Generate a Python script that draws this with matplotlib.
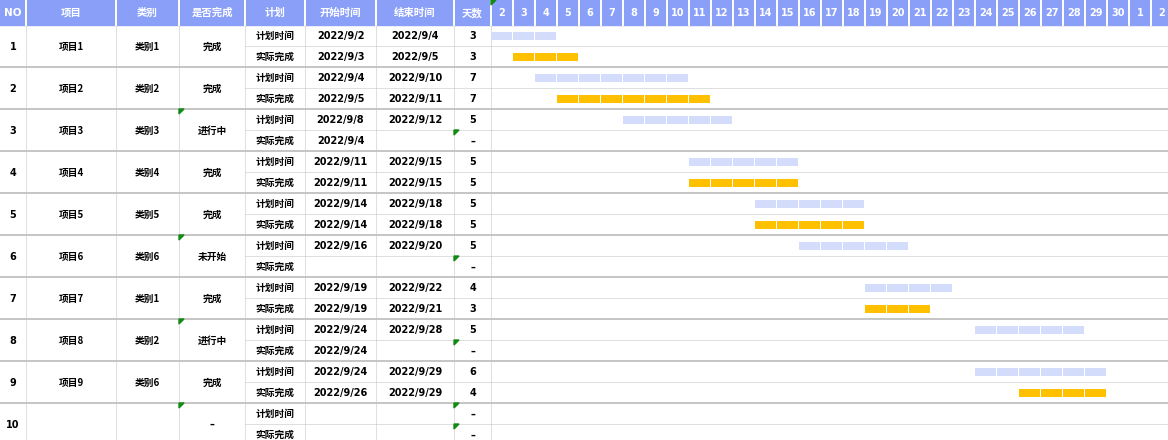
import matplotlib.pyplot as plt
from matplotlib.patches import Rectangle, Polygon
import pandas as pd

plt.rcParams['font.family'] = ['DejaVu Sans', 'Noto Sans CJK SC']
CJK = ['Noto Sans CJK SC', 'DejaVu Sans']
LAT = ['DejaVu Sans', 'Noto Sans CJK SC']

# ---- data read from the sheet ----
nos = [1, 2, 3, 4, 5, 6, 7, 8, 9, 10]
projects = ['项目1', '项目2', '项目3', '项目4', '项目5', '项目6', '项目7', '项目8', '项目9', '']
cats = ['类别1', '类别2', '类别3', '类别4', '类别5', '类别6', '类别1', '类别2', '类别6', '']
status = ['完成', '完成', '进行中', '完成', '完成', '未开始', '完成', '进行中', '完成', '–']
plan_start = ['2022/9/2', '2022/9/4', '2022/9/8', '2022/9/11', '2022/9/14', '2022/9/16',
              '2022/9/19', '2022/9/24', '2022/9/24', '']
plan_end = ['2022/9/4', '2022/9/10', '2022/9/12', '2022/9/15', '2022/9/18', '2022/9/20',
            '2022/9/22', '2022/9/28', '2022/9/29', '']
act_start = ['2022/9/3', '2022/9/5', '2022/9/4', '2022/9/11', '2022/9/14', '',
             '2022/9/19', '2022/9/24', '2022/9/26', '']
act_end = ['2022/9/5', '2022/9/11', '', '2022/9/15', '2022/9/18', '',
           '2022/9/21', '', '2022/9/29', '']
plan_days = ['3', '7', '5', '5', '5', '5', '4', '5', '6', '–']
act_days = ['3', '7', '–', '5', '5', '–', '3', '–', '4', '–']
day_labels = [str(d) for d in range(2, 31)] + ['1', '2']
first_day = pd.Timestamp('2022-09-02')

headers = ['NO', '项目', '类别', '是否完成', '计划', '开始时间', '结束时间', '天数']

# ---- layout (pixels) ----
W, H = 1168, 440
HEAD, ROW = 25, 21
col_edges = [0, 26, 116, 179, 245, 305, 376, 454, 491]
CELL = 22
hdr_color = '#8aa0f8'
plan_color = '#d3dcfa'
act_color = '#ffc000'
grid = '#c0c0c0'
flag = '#138a13'


def fam(s):
    return CJK if any(ord(ch) > 0x2e80 for ch in s) else LAT


fig = plt.figure(figsize=(W / 100, H / 100), dpi=100)
ax = fig.add_axes([0, 0, 1, 1])
ax.set_xlim(0, W)
ax.set_ylim(H, 0)
ax.axis('off')

gx = fig.add_axes([col_edges[-1] / W, 0, (W - col_edges[-1]) / W, 1])
gx.set_xlim(0, (W - col_edges[-1]) / CELL)
gx.set_ylim(H, 0)
gx.axis('off')
gx.patch.set_alpha(0)

# header
ax.add_patch(Rectangle((0, 0), W, HEAD, color=hdr_color, zorder=1))
for i, h in enumerate(headers):
    cx = (col_edges[i] + col_edges[i + 1]) / 2
    ax.text(cx, HEAD / 2 + 0.5, h, ha='center', va='center', color='white',
            fontsize=7.5, fontweight='bold', family=fam(h), zorder=3)
for x in col_edges[1:]:
    ax.plot([x, x], [0, HEAD], color='white', lw=1.4, zorder=2)
for i, lab in enumerate(day_labels):
    gx.text(i + 0.5, HEAD / 2 + 0.5, lab, ha='center', va='center', color='white',
            fontsize=7, fontweight='bold', zorder=3)
    gx.plot([i + 1, i + 1], [0, HEAD], color='white', lw=1.4, zorder=2)

# grid lines
for x in col_edges[1:]:
    ax.plot([x, x], [HEAD, H], color=grid, lw=0.72, ls=(0, (1, 1)), zorder=1)
for k in range(len(nos)):
    top = HEAD + 2 * ROW * k
    if k > 0:
        ax.plot([0, W], [top, top], color=grid, lw=1.3, zorder=1)
    ax.plot([col_edges[4], W], [top + ROW, top + ROW], color=grid, lw=0.72,
            ls=(0, (1, 1)), zorder=1)

# table text
fs = 7
for k in range(len(nos)):
    top = HEAD + 2 * ROW * k
    mid = top + ROW + 0.8
    for i, val in enumerate([nos[k], projects[k], cats[k], status[k]]):
        cx = (col_edges[i] + col_edges[i + 1]) / 2
        s = str(val)
        ax.text(cx, mid, s, ha='center', va='center', fontsize=fs, fontweight='bold',
                family=fam(s))
    rows = [('计划时间', plan_start[k], plan_end[k], plan_days[k]),
            ('实际完成', act_start[k], act_end[k], act_days[k])]
    for r, vals in enumerate(rows):
        cy = top + ROW * r + ROW / 2 + 0.8
        for j, val in enumerate(vals):
            i = 4 + j
            cx = (col_edges[i] + col_edges[i + 1]) / 2
            ax.text(cx, cy, val, ha='center', va='center', fontsize=fs, fontweight='bold',
                    family=fam(val))
        if vals[3] == '–':
            x0, y0 = col_edges[7], top + ROW * r
            ax.add_patch(Polygon([(x0, y0), (x0 + 5, y0), (x0, y0 + 5)], color=flag, zorder=4))
    if status[k] != '完成':
        x0 = col_edges[3]
        ax.add_patch(Polygon([(x0, top), (x0 + 5, top), (x0, top + 5)], color=flag, zorder=4))

ax.add_patch(Polygon([(col_edges[-1], 0), (col_edges[-1] + 5, 0), (col_edges[-1], 5)],
                     color=flag, zorder=4))

# gantt bars, one block per day
for k in range(len(nos)):
    top = HEAD + 2 * ROW * k
    for r, (s, e, c) in enumerate([(plan_start[k], plan_end[k], plan_color),
                                   (act_start[k], act_end[k], act_color)]):
        if not s or not e:
            continue
        i0 = (pd.Timestamp(s) - first_day).days
        i1 = (pd.Timestamp(e) - first_day).days
        days = list(range(i0, i1 + 1))
        gx.bar(days, 8, bottom=top + ROW * r + 7, width=21 / CELL, align='edge',
               color=c, zorder=2)

fig.savefig('out.png', dpi=100)
